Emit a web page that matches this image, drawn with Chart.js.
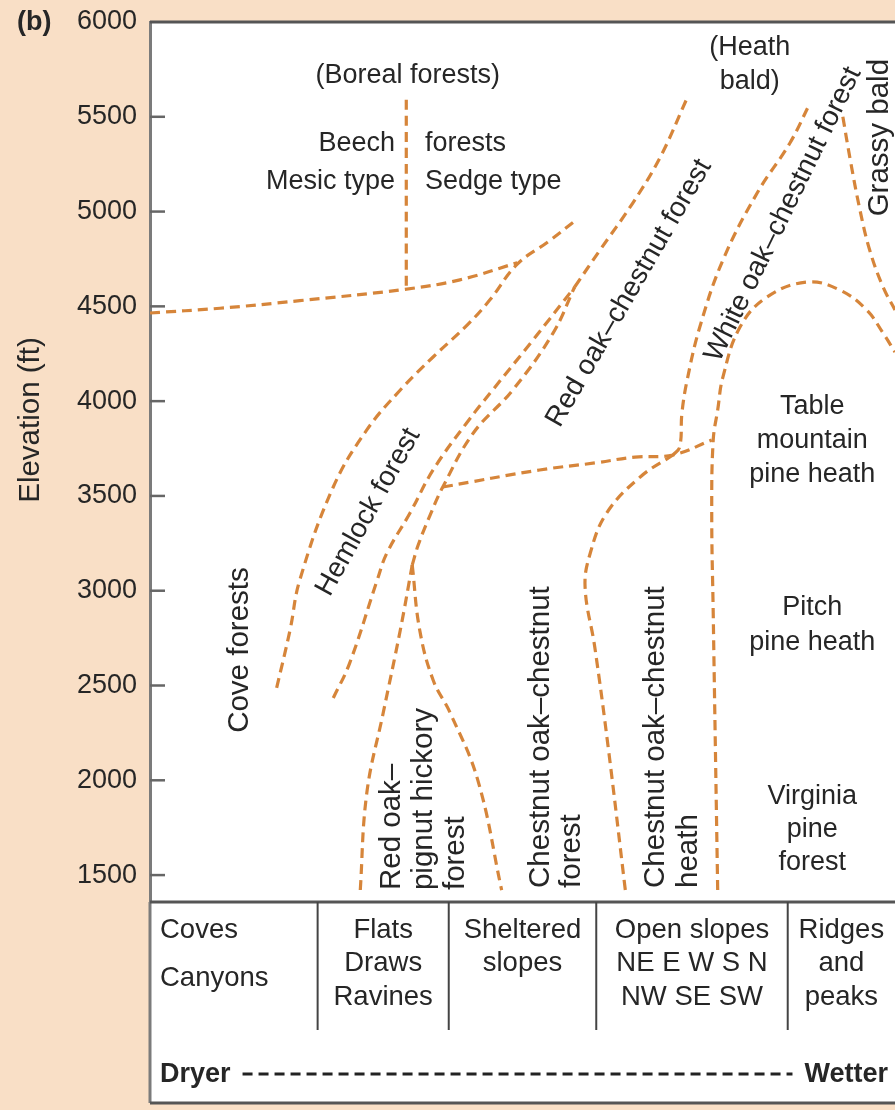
<!DOCTYPE html>
<html>
<head>
<meta charset="utf-8">
<script src="https://cdn.jsdelivr.net/npm/chart.js@4.4.1/dist/chart.umd.min.js"></script>
<style>
  html, body { margin: 0; padding: 0; background: #f9dfc6; }
  canvas { display: block; }
</style>
</head>
<body>
<canvas id="zones" width="895" height="1110"></canvas>
<script>
// elevation ticks (ft)
var elevTicks = [1500, 2000, 2500, 3000, 3500, 4000, 4500, 5000, 5500, 6000];

// zone boundaries. x = place along the site gradient (0 = coves, 100 = ridges), y = elevation (ft)
// beech forests: mesic | sedge split
var beechSplitX = [34.4, 34.4];
var beechSplitY = [5590, 4600];
// lower edge of the beech forests
var beechBaseX = [0, 9.4, 20.1, 34.2, 41.6, 49.3];
var beechBaseY = [4465, 4490, 4530, 4590, 4640, 4730];
// cove forests | hemlock forest
var coveEdgeX = [17.0, 18.8, 20.1, 24.6, 29.1, 33.6, 38.0, 42.6, 45.6, 49.3, 53.4, 57.4];
var coveEdgeY = [2487, 2793, 3056, 3547, 3848, 4059, 4233, 4402, 4533, 4723, 4840, 4961];
// hemlock forest | red oak
var hemlockEdgeX = [24.6, 26.8, 30.5, 31.8, 34.9, 38.0, 42.5, 46.0, 51.4, 57.0];
var hemlockEdgeY = [2434, 2618, 3056, 3199, 3410, 3637, 3885, 4059, 4322, 4602];
// red oak-chestnut lower edge, fork up to the merge
var redOakEdgeX = [35.2, 36.0, 37.6, 39.3, 43.4, 48.7, 54.1, 57.0];
var redOakEdgeY = [3136, 3241, 3399, 3547, 3832, 4059, 4359, 4602];
// red oak-chestnut upper edge
var redOakTopX = [57.0, 60.4, 64.8, 68.5, 72.1];
var redOakTopY = [4602, 4797, 5045, 5288, 5599];
// red oak-pignut hickory, left and right edges
var pignutLeftX = [35.2, 33.6, 31.3, 29.1, 28.2];
var pignutLeftY = [3136, 2793, 2355, 1933, 1405];
var pignutRightX = [35.2, 36.2, 38.0, 40.3, 44.0, 47.2];
var pignutRightY = [3136, 2793, 2529, 2355, 2001, 1421];
// chestnut oak upper edge
var chestnutTopX = [39.3, 52.3, 59.7, 65.1, 70.2, 75.4];
var chestnutTopY = [3547, 3637, 3674, 3705, 3716, 3795];
// chestnut oak forest | chestnut oak heath
var chestnutEdgeX = [63.8, 61.5, 59.7, 58.4, 59.1, 61.3, 65.8, 70.2];
var chestnutEdgeY = [1421, 2175, 2703, 3019, 3199, 3410, 3600, 3716];
// white oak-chestnut lower edge
var whiteOakEdgeX = [70.2, 71.1, 71.4, 72.1, 73.8, 76.9, 81.5, 85.9, 88.6];
var whiteOakEdgeY = [3716, 3758, 3937, 4111, 4391, 4744, 5098, 5362, 5573];
// pine heaths edge (up the slope, then over the arch)
var pineEdgeX = [76.2, 75.6, 75.4, 75.6, 76.2, 76.9, 79.2, 82.8, 88.2, 92.6, 96.2, 98.4, 100];
var pineEdgeY = [1421, 2882, 3410, 3795, 3953, 4127, 4391, 4549, 4628, 4586, 4481, 4359, 4259];
// grassy bald edge
var grassyEdgeX = [93.0, 94.0, 95.3, 96.6, 98.4, 100];
var grassyEdgeY = [5500, 5272, 5008, 4797, 4602, 4481];

// site types along the bottom and where they split on the gradient
var siteTypes = [
  ['Coves', 'Canyons'],
  ['Flats', 'Draws', 'Ravines'],
  ['Sheltered', 'slopes'],
  ['Open slopes', 'NE E W S N', 'NW SE SW'],
  ['Ridges', 'and', 'peaks']
];
var siteBounds = [0, 22.5, 40.1, 59.9, 85.6, 100];

var boundaries = [
  [beechSplitX, beechSplitY], [beechBaseX, beechBaseY], [coveEdgeX, coveEdgeY],
  [hemlockEdgeX, hemlockEdgeY], [redOakEdgeX, redOakEdgeY], [redOakTopX, redOakTopY],
  [pignutLeftX, pignutLeftY], [pignutRightX, pignutRightY], [chestnutTopX, chestnutTopY],
  [chestnutEdgeX, chestnutEdgeY], [whiteOakEdgeX, whiteOakEdgeY], [pineEdgeX, pineEdgeY],
  [grassyEdgeX, grassyEdgeY]
];

// zone names, anchored in chart units
var zoneLabels = [
  { text: ['(Boreal forests)'], x: 34.6, y: 5720 },
  { text: ['Beech', 'Mesic type'], x: 32.9, y: 5261, align: 'right', lh: 38 },
  { text: ['forests', 'Sedge type'], x: 36.9, y: 5261, align: 'left', lh: 38 },
  { text: ['(Heath', 'bald)'], x: 80.5, y: 5773 },
  { text: ['Grassy bald'], x: 98.0, y: 5390, rot: 90, size: 29.5 },
  { text: ['White oak\u2013chestnut forest'], x: 85.0, y: 4985, rot: 64, size: 28 },
  { text: ['Red oak\u2013chestnut forest'], x: 64.3, y: 4570, rot: 60, size: 28 },
  { text: ['Hemlock forest'], x: 29.3, y: 3415, rot: 61, size: 28 },
  { text: ['Table', 'mountain', 'pine heath'], x: 88.9, y: 3790 },
  { text: ['Pitch', 'pine heath'], x: 88.9, y: 2819, lh: 35 },
  { text: ['Virginia', 'pine', 'forest'], x: 88.9, y: 1738, lh: 33 },
  { text: ['Cove forests'], x: 12.1, y: 2687, rot: 90, size: 29.5 },
  { text: ['Red oak\u2013', 'pignut hickory', 'forest'], x: 36.8, y: 1421, rot: 90, align: 'left', size: 29.5, lh: 32 },
  { text: ['Chestnut oak\u2013chestnut', 'forest'], x: 54.6, y: 1432, rot: 90, align: 'left', size: 29.5, lh: 31 },
  { text: ['Chestnut oak\u2013chestnut', 'heath'], x: 70.1, y: 1432, rot: 90, align: 'left', size: 29.5, lh: 33 }
];

var FONT = "'Liberation Sans', Arial, sans-serif";
var INK = '#262626';
var DASH_ORANGE = '#d6853a';
var TABLE_H = 201;

function pts(xs, ys) {
  return xs.map(function (x, i) { return { x: x, y: ys[i] }; });
}

function drawText(ctx, lines, px, py, opt) {
  var lh = opt.lh || 34;
  ctx.save();
  ctx.translate(px, py);
  if (opt.rot) ctx.rotate(-opt.rot * Math.PI / 180);
  ctx.font = (opt.bold ? 'bold ' : '') + (opt.size || 27) + 'px ' + FONT;
  ctx.fillStyle = INK;
  ctx.textAlign = opt.align || 'center';
  ctx.textBaseline = 'middle';
  lines.forEach(function (t, i) {
    ctx.fillText(t, 0, (i - (lines.length - 1) / 2) * lh);
  });
  ctx.restore();
}

function hline(ctx, x1, x2, y, color, w) {
  ctx.beginPath();
  ctx.strokeStyle = color;
  ctx.lineWidth = w;
  ctx.moveTo(x1, y);
  ctx.lineTo(x2, y);
  ctx.stroke();
}

function vline(ctx, x, y1, y2, color, w) {
  ctx.beginPath();
  ctx.strokeStyle = color;
  ctx.lineWidth = w;
  ctx.moveTo(x, y1);
  ctx.lineTo(x, y2);
  ctx.stroke();
}

var diagram = {
  id: 'diagram',
  beforeDraw: function (chart) {
    var ctx = chart.ctx, a = chart.chartArea;
    ctx.save();
    ctx.fillStyle = '#f9dfc6';
    ctx.fillRect(0, 0, chart.width, chart.height);
    ctx.fillStyle = '#ffffff';
    ctx.fillRect(a.left, a.top, chart.width - a.left, a.bottom + TABLE_H - a.top);
    ctx.restore();
  },
  afterDraw: function (chart) {
    var ctx = chart.ctx, a = chart.chartArea;
    var xs = chart.scales.x, ys = chart.scales.y;
    var tTop = a.bottom, tBot = a.bottom + TABLE_H;
    ctx.save();

    // tick marks inside the frame
    elevTicks.forEach(function (v) {
      if (v >= ys.max) return;
      var py = ys.getPixelForValue(v);
      hline(ctx, a.left, a.left + 15, py, '#666666', 2.5);
    });

    // frame
    hline(ctx, a.left, chart.width, a.top, '#555555', 3);
    vline(ctx, a.left, tTop, tBot, '#7b7b7b', 3);
    hline(ctx, a.left, chart.width, tTop, '#555555', 3);
    hline(ctx, a.left, chart.width, tBot, '#555555', 3);

    // axis title and panel letter
    drawText(ctx, ['Elevation (ft)'], 31, 420, { rot: 90, size: 29.5 });
    drawText(ctx, ['(b)'], 17, ys.getPixelForValue(6000) + 1, { align: 'left', bold: true });

    // zone names
    zoneLabels.forEach(function (l) {
      drawText(ctx, l.text, xs.getPixelForValue(l.x), ys.getPixelForValue(l.y), l);
    });

    // site table
    siteBounds.slice(1, -1).forEach(function (b) {
      vline(ctx, xs.getPixelForValue(b), tTop, tTop + 128, '#444444', 2);
    });
    siteTypes.forEach(function (rows, i) {
      var l = xs.getPixelForValue(siteBounds[i]);
      var r = xs.getPixelForValue(siteBounds[i + 1]);
      if (i === 0) {
        drawText(ctx, rows, l + 10, tTop + 28 + 24, { align: 'left', lh: 48, size: 27.5 });
      } else {
        drawText(ctx, rows, (l + r) / 2, tTop + 28 + 33.5 * (rows.length - 1) / 2, { lh: 33.5, size: 27.5 });
      }
    });

    // moisture gradient
    var gy = tTop + 173;
    drawText(ctx, ['Dryer'], a.left + 10, gy, { align: 'left', bold: true });
    drawText(ctx, ['Wetter'], chart.width - 7, gy, { align: 'right', bold: true });
    ctx.font = 'bold 27px ' + FONT;
    var dx1 = a.left + 10 + ctx.measureText('Dryer').width + 12;
    var dx2 = chart.width - 7 - ctx.measureText('Wetter').width - 12;
    ctx.setLineDash([10, 6]);
    hline(ctx, dx1, dx2, gy - 1, '#222222', 3);
    ctx.setLineDash([]);

    ctx.restore();
  }
};

new Chart(document.getElementById('zones'), {
  type: 'scatter',
  data: {
    datasets: boundaries.map(function (b) {
      return {
        data: pts(b[0], b[1]),
        showLine: true,
        borderColor: DASH_ORANGE,
        borderWidth: 3.2,
        borderDash: [10, 6],
        pointRadius: 0,
        pointHoverRadius: 0,
        tension: 0.4,
        fill: false
      };
    })
  },
  options: {
    responsive: false,
    animation: false,
    events: [],
    layout: { padding: { top: 22, right: 0, bottom: 208, left: 0 } },
    plugins: { legend: { display: false }, tooltip: { enabled: false } },
    scales: {
      x: { type: 'linear', min: 0, max: 100, display: false },
      y: {
        type: 'linear',
        min: 1358,
        max: 6000,
        afterBuildTicks: function (s) {
          s.ticks = elevTicks.map(function (v) { return { value: v }; });
        },
        afterFit: function (s) {
          s.width = 150;
          s.paddingTop = 0;
          s.paddingBottom = 0;
        },
        grid: { drawOnChartArea: false, drawTicks: false },
        border: { color: '#7b7b7b', width: 3 },
        ticks: {
          color: INK,
          padding: 13,
          font: { family: FONT, size: 27 },
          callback: function (value) { return String(value); }
        }
      }
    }
  },
  plugins: [diagram]
});
</script>
</body>
</html>
